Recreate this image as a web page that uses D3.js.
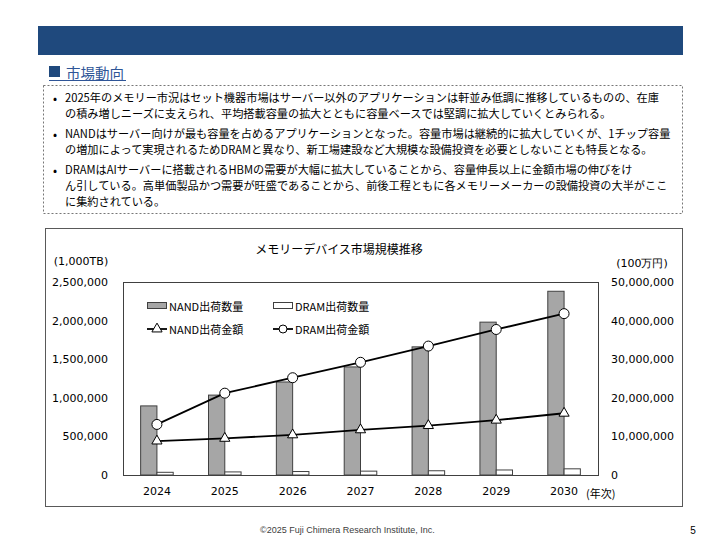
<!DOCTYPE html>
<html>
<head>
<meta charset="utf-8">
<script src="https://cdn.jsdelivr.net/npm/d3@7"></script>
<style>
  body { margin: 0; background: #fff; }
  svg { display: block; }
</style>
</head>
<body>
<div id="chart"></div>
<script>
// chart values
const years = ['2024', '2025', '2026', '2027', '2028', '2029', '2030'];
const nandVolume = [895000, 1035000, 1205000, 1400000, 1660000, 1980000, 2380000];
const dramVolume = [35000, 40000, 45000, 50000, 55000, 65000, 80000];
const nandValue = [8800000, 9500000, 10400000, 11700000, 12800000, 14200000, 16000000];
const dramValue = [13100000, 21200000, 25200000, 29200000, 33400000, 37700000, 41800000];
const leftTicks = [0, 500000, 1000000, 1500000, 2000000, 2500000];
const rightTicks = [0, 10000000, 20000000, 30000000, 40000000, 50000000];

const chartTitle = 'メモリーデバイス市場規模推移';
const legendLabels = ['NAND出荷数量', 'DRAM出荷数量', 'NAND出荷金額', 'DRAM出荷金額'];

const bulletParas = [
  ['2025年のメモリー市況はセット機器市場はサーバー以外のアプリケーションは軒並み低調に推移しているものの、在庫',
   'の積み増しニーズに支えられ、平均搭載容量の拡大とともに容量ベースでは堅調に拡大していくとみられる。'],
  ['NANDはサーバー向けが最も容量を占めるアプリケーションとなった。容量市場は継続的に拡大していくが、1チップ容量',
   'の増加によって実現されるためDRAMと異なり、新工場建設など大規模な設備投資を必要としないことも特長となる。'],
  ['DRAMはAIサーバーに搭載されるHBMの需要が大幅に拡大していることから、容量伸長以上に金額市場の伸びをけ',
   'ん引している。高単価製品かつ需要が旺盛であることから、前後工程ともに各メモリーメーカーの設備投資の大半がここ',
   'に集約されている。']
];

const jp = '"Noto Sans CJK JP", "Noto Sans", sans-serif';
const num = '"DejaVu Sans", Verdana, sans-serif';

const svg = d3.select('#chart').append('svg')
  .attr('width', 720)
  .attr('height', 540);

// header bar
svg.append('rect')
  .attr('x', 38).attr('y', 26)
  .attr('width', 645).attr('height', 29)
  .attr('fill', '#1F497D');

// section title
svg.append('rect')
  .attr('x', 49).attr('y', 66)
  .attr('width', 11).attr('height', 11)
  .attr('fill', '#1F497D');
svg.append('text')
  .attr('x', 66).attr('y', 72)
  .attr('dominant-baseline', 'central')
  .style('font-family', jp)
  .style('font-size', '14.5px')
  .attr('fill', '#2E5597')
  .text('市場動向');
svg.append('line')
  .attr('x1', 49).attr('x2', 126)
  .attr('y1', 80.5).attr('y2', 80.5)
  .attr('stroke', '#2E5597');

// dashed text box
svg.append('rect')
  .attr('x', 43.5).attr('y', 85.5)
  .attr('width', 639).attr('height', 128)
  .attr('fill', 'none')
  .attr('stroke', '#777')
  .attr('stroke-dasharray', '2,2');

const textG = svg.append('g');
let lineY = 97;
const lineNodes = [];
bulletParas.forEach(para => {
  textG.append('text')
    .attr('x', 53).attr('y', lineY)
    .attr('dominant-baseline', 'central')
    .style('font-family', jp)
    .style('font-size', '12px')
    .text('•');
  para.forEach((ln, i) => {
    const t = textG.append('text')
      .attr('x', 65).attr('y', lineY)
      .attr('dominant-baseline', 'central')
      .style('font-family', jp)
      .style('font-size', '12.5px')
      .attr('fill', '#000')
      .text(ln);
    lineNodes.push(t);
    lineY += (i < para.length - 1) ? 16 : 20;
  });
});
// shrink the font so the widest line fits inside the box
const widest = d3.max(lineNodes, t => t.node().getComputedTextLength());
const bodySize = Math.min(12.5, 12.5 * 606 / widest);
lineNodes.forEach(t => t.style('font-size', bodySize + 'px'));

// chart frame
svg.append('rect')
  .attr('x', 45.5).attr('y', 228.5)
  .attr('width', 637).attr('height', 278)
  .attr('fill', '#fff')
  .attr('stroke', '#595959');

const plot = { left: 123, right: 598, top: 282, bottom: 475 };

const x = d3.scaleBand()
  .domain(years)
  .range([plot.left, plot.right]);
const yL = d3.scaleLinear().domain([0, 2500000]).range([plot.bottom, plot.top]);
const yR = d3.scaleLinear().domain([0, 50000000]).range([plot.bottom, plot.top]);
const cx = d => x(d) + x.bandwidth() / 2;
const barW = x.bandwidth() * 0.24;

// title
svg.append('text')
  .attr('x', 339).attr('y', 248)
  .attr('text-anchor', 'middle')
  .attr('dominant-baseline', 'central')
  .style('font-family', jp)
  .style('font-size', '12px')
  .text(chartTitle);

// axis units
svg.append('text')
  .attr('x', 81).attr('y', 261)
  .attr('text-anchor', 'middle').attr('dominant-baseline', 'central')
  .style('font-family', num).style('font-size', '11px')
  .text('(1,000TB)');
svg.append('text')
  .attr('x', 642).attr('y', 263)
  .attr('text-anchor', 'middle').attr('dominant-baseline', 'central')
  .style('font-family', num).style('font-size', '11px')
  .text('(100万円)');

// left axis labels
const fmt = d3.format(',');
svg.append('g')
  .attr('transform', `translate(${plot.left - 15},0)`)
  .call(d3.axisLeft(yL).tickValues(leftTicks).tickFormat(fmt).tickSize(0).tickPadding(0))
  .call(g => g.select('.domain').remove())
  .call(g => g.selectAll('text')
    .style('font-family', num).style('font-size', '11px').attr('fill', '#000'));

// right axis labels
svg.append('g')
  .attr('transform', `translate(${plot.right + 13},0)`)
  .call(d3.axisRight(yR).tickValues(rightTicks).tickFormat(fmt).tickSize(0).tickPadding(0))
  .call(g => g.select('.domain').remove())
  .call(g => g.selectAll('text')
    .style('font-family', num).style('font-size', '11px').attr('fill', '#000'));

// bottom axis labels
svg.append('g')
  .attr('transform', `translate(0,${plot.bottom + 12})`)
  .call(d3.axisBottom(x).tickSize(0).tickPadding(0))
  .call(g => g.select('.domain').remove())
  .call(g => g.selectAll('text')
    .attr('dy', '0.71em')
    .style('font-family', num).style('font-size', '11px').attr('fill', '#000'));
svg.append('text')
  .attr('x', 586).attr('y', 493)
  .attr('dominant-baseline', 'central')
  .style('font-family', jp).style('font-size', '11px')
  .text('(年次)');

// plot area border
svg.append('rect')
  .attr('x', plot.left + 0.5).attr('y', plot.top + 0.5)
  .attr('width', plot.right - plot.left).attr('height', plot.bottom - plot.top)
  .attr('fill', 'none')
  .attr('stroke', '#404040');

// bars
const bars = svg.append('g');
bars.selectAll('rect.nand')
  .data(years)
  .join('rect')
  .attr('class', 'nand')
  .attr('x', (d) => cx(d) - barW)
  .attr('y', (d, i) => yL(nandVolume[i]))
  .attr('width', barW)
  .attr('height', (d, i) => yL(0) - yL(nandVolume[i]))
  .attr('fill', '#A6A6A6')
  .attr('stroke', '#404040')
  .attr('stroke-width', 1);
bars.selectAll('rect.dram')
  .data(years)
  .join('rect')
  .attr('class', 'dram')
  .attr('x', (d) => cx(d))
  .attr('y', (d, i) => yL(dramVolume[i]))
  .attr('width', barW)
  .attr('height', (d, i) => yL(0) - yL(dramVolume[i]))
  .attr('fill', '#fff')
  .attr('stroke', '#404040')
  .attr('stroke-width', 1);

// bottom axis line
svg.append('line')
  .attr('x1', plot.left).attr('x2', plot.right)
  .attr('y1', plot.bottom + 0.5).attr('y2', plot.bottom + 0.5)
  .attr('stroke', '#404040');

// lines
const line = d3.line().x(d => cx(d[0])).y(d => yR(d[1]));
const triangle = d3.symbol().type(d3.symbolTriangle).size(45);

[[nandValue, 'tri'], [dramValue, 'circ']].forEach(([vals, mark]) => {
  const pts = years.map((yr, i) => [yr, vals[i]]);
  svg.append('path')
    .datum(pts)
    .attr('fill', 'none')
    .attr('stroke', '#000')
    .attr('stroke-width', 1.8)
    .attr('d', line);
  if (mark === 'circ') {
    svg.selectAll(null).data(pts).join('circle')
      .attr('cx', d => cx(d[0])).attr('cy', d => yR(d[1]))
      .attr('r', 5)
      .attr('fill', '#fff').attr('stroke', '#000').attr('stroke-width', 1);
  } else {
    svg.selectAll(null).data(pts).join('path')
      .attr('transform', d => `translate(${cx(d[0])},${yR(d[1])})`)
      .attr('d', triangle)
      .attr('fill', '#fff').attr('stroke', '#000').attr('stroke-width', 1);
  }
});

// legend
const legend = svg.append('g');
const legX = [147, 273];
const legY = [306, 329];
legendLabels.forEach((lab, i) => {
  const lx = legX[i % 2];
  const ly = legY[Math.floor(i / 2)];
  if (i < 2) {
    legend.append('rect')
      .attr('x', lx + 0.5).attr('y', ly - 3.5)
      .attr('width', 19).attr('height', 6)
      .attr('fill', i === 0 ? '#A6A6A6' : '#fff')
      .attr('stroke', '#404040');
  } else {
    legend.append('line')
      .attr('x1', lx).attr('x2', lx + 20)
      .attr('y1', ly).attr('y2', ly)
      .attr('stroke', '#000').attr('stroke-width', 1.8);
    if (i === 2) {
      legend.append('path')
        .attr('transform', `translate(${lx + 10},${ly})`)
        .attr('d', triangle)
        .attr('fill', '#fff').attr('stroke', '#000');
    } else {
      legend.append('circle')
        .attr('cx', lx + 10).attr('cy', ly).attr('r', 4)
        .attr('fill', '#fff').attr('stroke', '#000');
    }
  }
  legend.append('text')
    .attr('x', lx + 22).attr('y', ly)
    .attr('dominant-baseline', 'central')
    .style('font-family', jp)
    .style('font-size', '11px')
    .text(lab);
});

// footer
svg.append('text')
  .attr('x', 260).attr('y', 530)
  .attr('dominant-baseline', 'central')
  .style('font-family', '"Liberation Sans", Arial, sans-serif')
  .style('font-size', '9px')
  .attr('fill', '#404040')
  .text('©2025 Fuji Chimera Research Institute, Inc.');
svg.append('text')
  .attr('x', 693).attr('y', 530)
  .attr('text-anchor', 'middle')
  .attr('dominant-baseline', 'central')
  .style('font-family', '"Liberation Sans", Arial, sans-serif')
  .style('font-size', '10px')
  .attr('fill', '#000')
  .text('5');
</script>
</body>
</html>
